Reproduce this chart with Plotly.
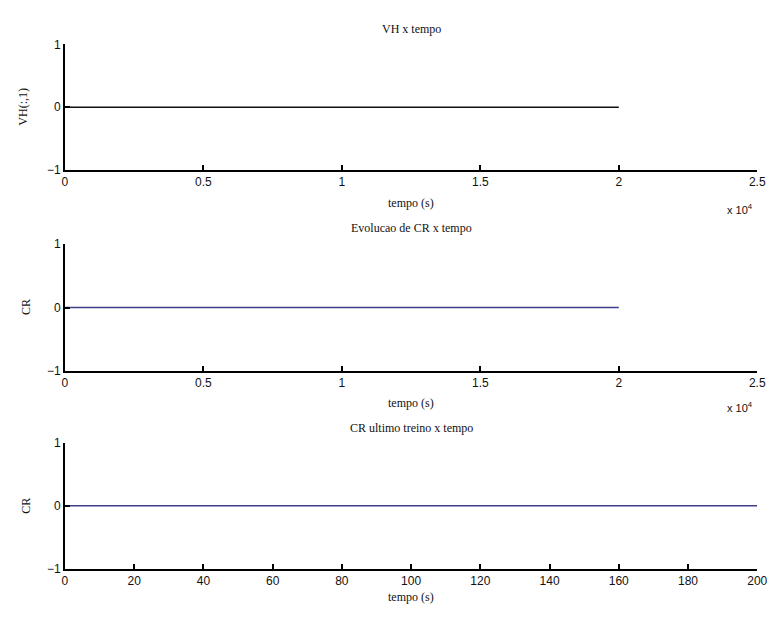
import plotly.graph_objects as go

# Data
t_vh = [0, 20000]
vh = [0, 0]
t_cr = [0, 20000]
cr = [0, 0]
t_last = [0, 200]
cr_last = [0, 0]

titles = ["VH x tempo", "Evolucao de CR x tempo", "CR ultimo treino x tempo"]
ylabels = ["VH(:,1)", "CR", "CR"]
xlabel = "tempo (s)"
x1_ticks = [0, 5000, 10000, 15000, 20000, 25000]
x1_labels = ["0", "0.5", "1", "1.5", "2", "2.5"]
x3_ticks = [0, 20, 40, 60, 80, 100, 120, 140, 160, 180, 200]
y_ticks = [-1, 0, 1]

W, H = 781, 619
x0p, x1p = 63, 767
tops = [38.3, 242.7, 445.7]
bots = [166.7, 372.3, 575.0]

def py(p):
    return 1 - p / H

fig = go.Figure()
fig.add_trace(go.Scatter(x=t_vh, y=vh, mode="lines", line=dict(color="#111111", width=1.5),
                         xaxis="x", yaxis="y", showlegend=False))
fig.add_trace(go.Scatter(x=t_cr, y=cr, mode="lines", line=dict(color="#3f3f8c", width=1.5),
                         xaxis="x2", yaxis="y2", showlegend=False))
fig.add_trace(go.Scatter(x=t_last, y=cr_last, mode="lines", line=dict(color="#3f3f8c", width=1.5),
                         xaxis="x3", yaxis="y3", showlegend=False))

tickfont = dict(family="Liberation Sans, Arial", size=12, color="#111111")
common_x = dict(showline=True, linecolor="black", linewidth=1.5, ticks="inside", ticklen=5,
                tickcolor="black", tickwidth=1.5, showgrid=False, zeroline=False,
                tickfont=tickfont, domain=[x0p / W, x1p / W], mirror=False)
common_y = dict(showline=True, linecolor="black", linewidth=1.5, ticks="inside", ticklen=5,
                tickcolor="black", tickwidth=1.5, showgrid=False, zeroline=False,
                tickfont=tickfont, range=[-1, 1], tickvals=y_ticks,
                ticktext=["\u22121", "0", "1"])

layout = dict(width=W, height=H, margin=dict(l=0, r=0, t=0, b=0), autosize=False,
              paper_bgcolor="white", plot_bgcolor="white", showlegend=False)
names = ["", "2", "3"]
for i in range(3):
    xa = dict(common_x)
    ya = dict(common_y)
    if i < 2:
        xa.update(range=[0, 25000], tickvals=x1_ticks, ticktext=x1_labels)
    else:
        xa.update(range=[0, 200], tickvals=x3_ticks)
    xa["anchor"] = "y" + names[i]
    ya["anchor"] = "x" + names[i]
    ya["domain"] = [py(bots[i]), py(tops[i])]
    layout["xaxis" + names[i]] = xa
    layout["yaxis" + names[i]] = ya

serif = dict(family="Liberation Serif, Times New Roman", size=12, color="#111111")
ann = []
title_y = [22, 226, 431]
xlab_y = [201, 405, 604]
ylab_y = [102.3, 307.3, 510.7]
ylab_x = [20, 24, 24]
cx = (x0p + x1p) / 2 / W
for i in range(3):
    ann.append(dict(text=titles[i], x=cx, y=py(title_y[i]), xref="paper", yref="paper",
                    showarrow=False, font=serif, xanchor="center", yanchor="middle"))
    ann.append(dict(text=xlabel, x=cx, y=py(xlab_y[i]), xref="paper", yref="paper",
                    showarrow=False, font=serif, xanchor="center", yanchor="middle"))
    ann.append(dict(text=ylabels[i], x=ylab_x[i] / W, y=py(ylab_y[i]), xref="paper", yref="paper",
                    showarrow=False, font=serif, textangle=-90, xanchor="center", yanchor="middle"))
for yy in [207, 409]:
    ann.append(dict(text="x 10<sup>4</sup>", x=734 / W, y=py(yy), xref="paper", yref="paper",
                    showarrow=False, font=dict(family="Liberation Sans, Arial", size=11, color="#111111"),
                    xanchor="left", yanchor="middle"))
layout["annotations"] = ann

fig.update_layout(**layout)
post = "document.body.style.margin='0px';"
fig.write_html("out.html", post_script=post)
